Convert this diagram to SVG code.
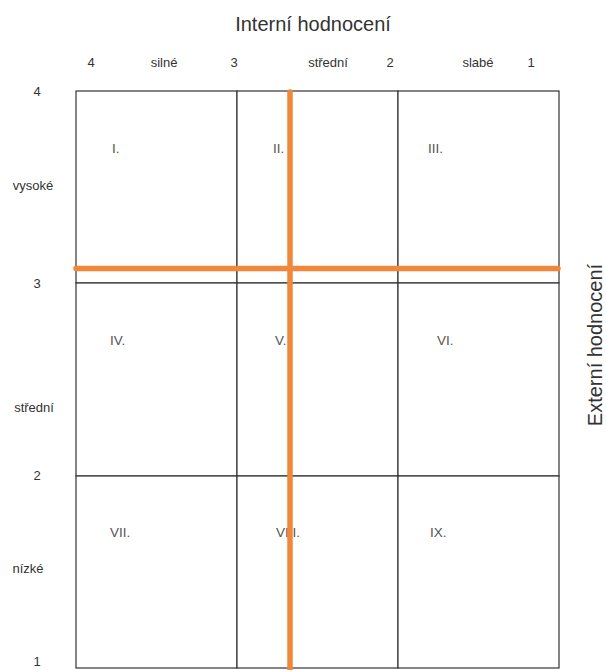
<svg xmlns="http://www.w3.org/2000/svg" width="606" height="670" viewBox="0 0 606 670">
<style>
.cell{fill:#fff;stroke:#333;stroke-width:1.2}
.ax{font-family:"Liberation Sans",Arial,sans-serif;font-size:13px;fill:#333}
.lbl{font-family:"Liberation Sans",Arial,sans-serif;font-size:13.5px;fill:#555}
.title{font-family:"Liberation Sans",Arial,sans-serif;font-size:20px;fill:#333}
.or{stroke:#F0873A;stroke-width:5.5;stroke-linecap:round;fill:none}
</style>
<rect width="606" height="670" fill="#fff"/>
<text class="title" x="313" y="31" text-anchor="middle">Interní hodnocení</text>
<text class="title" transform="translate(602,345) rotate(-90)" text-anchor="middle">Externí hodnocení</text>
<g id="top-axis" class="ax" text-anchor="middle">
<text x="91" y="67">4</text>
<text x="164" y="67">silné</text>
<text x="234" y="67">3</text>
<text x="328" y="67">střední</text>
<text x="390" y="67">2</text>
<text x="478" y="67">slabé</text>
<text x="531" y="67">1</text>
</g>
<g id="left-axis" class="ax" text-anchor="middle">
<text x="37" y="96">4</text>
<text x="33" y="190">vysoké</text>
<text x="37" y="288">3</text>
<text x="34" y="412">střední</text>
<text x="37" y="480">2</text>
<text x="28" y="573">nízké</text>
<text x="37" y="666">1</text>
</g>
<g id="cell-I"><rect class="cell" x="76" y="91" width="161" height="192"/><text class="lbl" x="112" y="153">I.</text></g>
<g id="cell-II"><rect class="cell" x="237" y="91" width="161" height="192"/><text class="lbl" x="273" y="153">II.</text></g>
<g id="cell-III"><rect class="cell" x="398" y="91" width="161" height="192"/><text class="lbl" x="428" y="153">III.</text></g>
<g id="cell-IV"><rect class="cell" x="76" y="283" width="161" height="193"/><text class="lbl" x="110" y="345">IV.</text></g>
<g id="cell-V"><rect class="cell" x="237" y="283" width="161" height="193"/><text class="lbl" x="275" y="345">V.</text></g>
<g id="cell-VI"><rect class="cell" x="398" y="283" width="161" height="193"/><text class="lbl" x="437" y="345">VI.</text></g>
<g id="cell-VII"><rect class="cell" x="76" y="476" width="161" height="192"/><text class="lbl" x="110" y="537">VII.</text></g>
<g id="cell-VIII"><rect class="cell" x="237" y="476" width="161" height="192"/><text class="lbl" x="276" y="537">VIII.</text></g>
<g id="cell-IX"><rect class="cell" x="398" y="476" width="161" height="192"/><text class="lbl" x="430" y="537">IX.</text></g>
<g id="connectors">
<line class="or" x1="76" y1="268.5" x2="558" y2="268.5"/>
<line class="or" x1="290" y1="92" x2="290" y2="672"/>
</g>
</svg>
